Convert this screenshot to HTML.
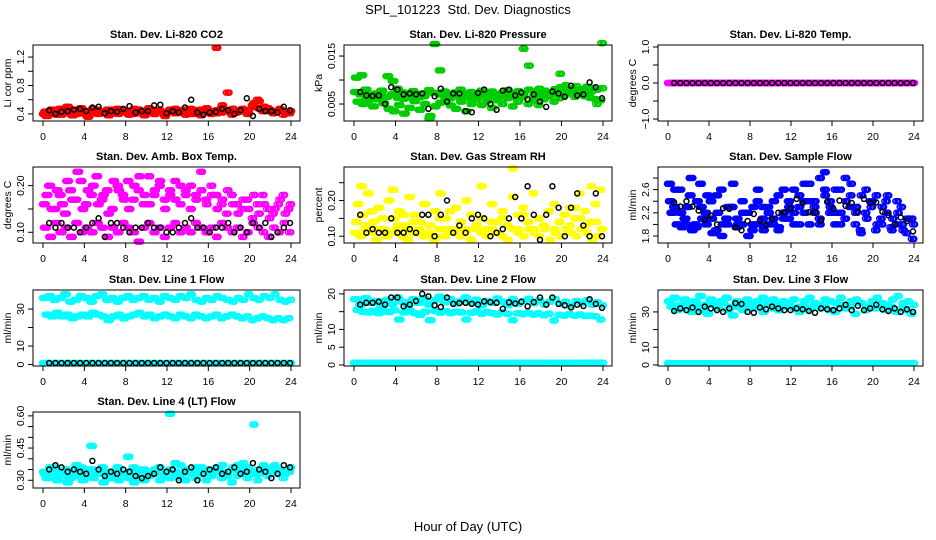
<!DOCTYPE html>
<html><head><meta charset="utf-8">
<style>
html,body{margin:0;padding:0;background:#fff;}
svg{display:block;font-family:"Liberation Sans",sans-serif;}
</style></head>
<body>
<svg id="chart" width="936" height="540" viewBox="0 0 936 540">
<text x="468" y="14" text-anchor="middle" font-size="13" xml:space="preserve">SPL_101223  Std. Dev. Diagnostics</text>
<text x="468" y="531" text-anchor="middle" font-size="13">Hour of Day (UTC)</text>
</svg>
<script>
// ---- data ----
const xTicks = [0,4,8,12,16,20,24];
const flat48 = [0,0,0,0,0,0,0,0,0,0,0,0,0,0,0,0,0,0,0,0,0,0,0,0,0,0,0,0,0,0,0,0,0,0,0,0,0,0,0,0,0,0,0,0,0,0,0,0,0];
const flat40 = [0,0,0,0,0,0,0,0,0,0,0,0,0,0,0,0,0,0,0,0,0,0,0,0,0,0,0,0,0,0,0,0,0,0,0,0,0,0,0,0];

const co2A = [0.40,0.44,0.42,0.47,0.41,0.45,0.43,0.48,0.40,0.44,0.46,0.42,0.45,0.41,0.47,0.43,0.44,0.40,0.46,0.42,0.48,0.43,0.45,0.41,0.44,0.47,0.42,0.46,0.40,0.45,0.43,0.48,0.44,0.41,0.52,0.70,0.47,0.43,0.45,0.41,0.55,0.58,0.50,0.46,0.43,0.47,0.41,0.44];
const co2B = [0.37,0.46,0.39,0.43,0.50,0.38,0.45,0.41,0.36,0.47,0.40,0.43,0.38,0.46,0.41,0.44,0.39,0.47,0.42,0.38,0.45,0.40,0.43,0.37,0.46,0.41,0.44,0.39,0.47,0.42,0.38,0.45,0.40,1.33,0.48,0.44,0.39,0.42,0.46,0.40,0.52,0.60,0.44,0.48,0.41,0.45,0.39,0.42];
const co2C = [0.43,0.41,0.45,0.39,0.44,0.42,0.40,0.45,0.43,0.41,0.44,0.42,0.46,0.43,0.40,0.45,0.42,0.44,0.41,0.43,0.45,0.40,0.44,0.42,0.43,0.41,0.45,0.42,0.44,0.40,0.46,0.43,0.41,0.45,0.42,0.44,0.40,0.43,0.47,0.45,0.50,0.48,0.46,0.44,0.42,0.45,0.43,0.41];
const co2K = [0.45,0.40,0.43,0.44,0.46,0.47,0.44,0.49,0.50,0.41,0.44,0.43,0.47,0.51,0.42,0.44,0.44,0.52,0.53,0.41,0.44,0.42,0.49,0.60,0.42,0.39,0.42,0.43,0.47,0.45,0.40,0.45,0.62,0.37,0.47,0.44,0.44,0.42,0.50,0.45];

const presA = [0.0075,0.0070,0.0080,0.0068,0.0072,0.0078,0.0065,0.0070,0.0082,0.0074,0.0069,0.0077,0.0071,0.0066,0.0079,0.0073,0.0070,0.0076,0.0068,0.0074,0.0080,0.0071,0.0075,0.0069,0.0078,0.0072,0.0076,0.0070,0.0074,0.0079,0.0073,0.0077,0.0071,0.0080,0.0076,0.0082,0.0078,0.0074,0.0081,0.0085,0.0089,0.0083,0.0087,0.0081,0.0086,0.0084,0.0080,0.0083];
const presB = [0.0055,0.0050,0.0058,0.0045,0.0060,0.0052,0.0040,0.0035,0.0048,0.0030,0.0042,0.0056,0.0038,0.0050,0.0025,0.0045,0.0053,0.0058,0.0047,0.0040,0.0055,0.0035,0.0050,0.0060,0.0048,0.0056,0.0042,0.0058,0.0050,0.0062,0.0045,0.0055,0.0064,0.0050,0.0058,0.0048,0.0060,0.0066,0.0055,0.0062,0.0068,0.0072,0.0065,0.0070,0.0066,0.0063,0.0060,0.0058];
const presC = [0.0105,0.0110,0.0062,0.0065,0.0060,0.0064,0.0108,0.0098,0.0063,0.0061,0.0066,0.0060,0.0064,0.0067,0.0020,0.0175,0.0120,0.0065,0.0062,0.0068,0.0063,0.0066,0.0061,0.0065,0.0069,0.0064,0.0067,0.0063,0.0066,0.0070,0.0065,0.0068,0.0165,0.0130,0.0067,0.0070,0.0072,0.0068,0.0073,0.0113,0.0075,0.0078,0.0074,0.0077,0.0073,0.0076,0.0050,0.0177];
const presK = [0.0075,0.0068,0.0067,0.0068,0.0050,0.0085,0.0080,0.0070,0.0072,0.0070,0.0072,0.0040,0.0066,0.0082,0.0055,0.0072,0.0072,0.0035,0.0033,0.0073,0.0080,0.0050,0.0038,0.0078,0.0080,0.0068,0.0074,0.0060,0.0070,0.0055,0.0044,0.0076,0.0072,0.0065,0.0088,0.0068,0.0070,0.0095,0.0085,0.0062];

const ambA = [0.16,0.20,0.15,0.18,0.14,0.19,0.17,0.21,0.16,0.18,0.22,0.17,0.19,0.15,0.20,0.18,0.21,0.17,0.19,0.16,0.22,0.18,0.20,0.17,0.19,0.21,0.16,0.18,0.20,0.17,0.19,0.16,0.18,0.15,0.17,0.19,0.16,0.14,0.17,0.15,0.18,0.14,0.16,0.13,0.15,0.17,0.14,0.16];
const ambB = [0.18,0.15,0.19,0.16,0.21,0.17,0.23,0.15,0.19,0.20,0.16,0.18,0.14,0.21,0.19,0.17,0.15,0.20,0.22,0.18,0.16,0.19,0.21,0.15,0.18,0.17,0.20,0.19,0.15,0.18,0.23,0.17,0.20,0.18,0.16,0.14,0.18,0.16,0.15,0.17,0.13,0.16,0.18,0.15,0.14,0.16,0.18,0.15];
const ambC = [0.11,0.09,0.12,0.10,0.11,0.09,0.12,0.10,0.11,0.10,0.12,0.11,0.09,0.11,0.10,0.12,0.11,0.10,0.08,0.11,0.12,0.10,0.11,0.09,0.11,0.12,0.10,0.11,0.10,0.12,0.11,0.10,0.11,0.09,0.12,0.11,0.10,0.11,0.09,0.10,0.12,0.11,0.10,0.09,0.11,0.10,0.12,0.10];
const ambK = [0.12,0.11,0.12,0.11,0.11,0.10,0.11,0.12,0.13,0.09,0.12,0.12,0.11,0.10,0.11,0.11,0.12,0.11,0.11,0.10,0.10,0.11,0.12,0.13,0.11,0.11,0.10,0.11,0.11,0.12,0.10,0.11,0.10,0.12,0.11,0.12,0.09,0.10,0.11,0.12];

const rhA = [0.11,0.10,0.12,0.11,0.09,0.12,0.10,0.11,0.12,0.10,0.09,0.11,0.12,0.10,0.11,0.09,0.12,0.10,0.11,0.12,0.10,0.11,0.09,0.12,0.11,0.10,0.12,0.11,0.10,0.09,0.12,0.11,0.10,0.12,0.11,0.10,0.12,0.09,0.11,0.10,0.12,0.11,0.10,0.12,0.11,0.09,0.10,0.12];
const rhB = [0.19,0.16,0.22,0.14,0.18,0.12,0.20,0.15,0.17,0.13,0.21,0.16,0.14,0.19,0.13,0.17,0.22,0.15,0.12,0.18,0.14,0.20,0.16,0.13,0.15,0.12,0.19,0.14,0.17,0.13,0.21,0.16,0.18,0.14,0.22,0.15,0.13,0.17,0.19,0.14,0.16,0.18,0.15,0.22,0.17,0.14,0.19,0.23];
const rhC = [0.14,0.24,0.13,0.17,0.12,0.15,0.11,0.23,0.13,0.16,0.12,0.14,0.11,0.19,0.13,0.10,0.15,0.12,0.17,0.11,0.14,0.12,0.16,0.13,0.24,0.12,0.14,0.11,0.15,0.13,0.29,0.12,0.16,0.14,0.12,0.15,0.13,0.17,0.12,0.14,0.16,0.13,0.18,0.15,0.13,0.24,0.14,0.12];
const rhK = [0.16,0.11,0.12,0.11,0.11,0.15,0.11,0.11,0.12,0.11,0.16,0.16,0.10,0.16,0.20,0.11,0.13,0.11,0.15,0.16,0.15,0.10,0.11,0.12,0.15,0.21,0.15,0.24,0.16,0.09,0.16,0.24,0.18,0.10,0.18,0.22,0.13,0.10,0.22,0.10];

const sfA = [2.7,2.3,2.6,2.1,2.5,2.0,2.7,2.2,2.4,1.9,2.6,2.1,2.3,1.95,2.0,2.2,1.9,2.4,2.1,2.3,2.0,2.5,2.2,2.1,2.6,2.3,2.7,2.4,2.2,2.8,2.5,2.3,2.6,2.2,2.4,2.7,2.3,2.5,2.1,2.4,2.0,2.3,2.5,2.1,2.2,1.9,2.1,2.0];
const sfB = [2.2,2.0,1.95,2.3,1.9,2.4,2.1,2.5,1.85,2.2,2.0,2.3,2.7,2.0,2.2,1.8,2.3,2.0,1.9,2.2,2.4,1.95,2.1,2.3,2.0,2.5,2.2,2.0,2.4,2.1,2.9,2.2,2.0,2.6,2.1,2.3,2.0,1.9,2.2,2.4,1.9,2.1,2.4,1.95,2.0,2.3,1.85,2.1];
const sfC = [2.4,2.6,2.2,2.0,2.8,1.95,2.3,2.0,2.1,2.5,1.8,2.0,2.3,2.1,2.4,2.2,2.0,2.6,2.3,2.0,2.1,1.9,2.6,2.4,2.2,2.0,2.4,2.7,2.3,2.0,2.6,2.4,2.2,2.0,2.8,2.5,2.2,1.85,2.6,2.3,2.5,2.0,2.2,1.9,2.4,2.0,2.1,1.75];
const sfK = [2.38,2.31,2.40,2.31,2.24,2.08,2.15,2.00,2.28,2.27,1.95,1.90,2.06,2.18,2.07,1.99,2.10,2.20,2.21,2.27,2.44,2.37,2.21,2.21,2.07,2.39,2.27,2.41,2.32,2.37,2.22,2.44,2.37,2.38,2.22,2.16,2.00,2.12,2.06,1.88];

const l1A = [36,37,35,36,38,34,35,37,36,34,37,38,35,36,34,36,37,35,36,37,35,36,34,37,36,35,37,36,38,35,34,36,35,37,36,35,34,36,35,38,36,35,37,36,38,35,34,35];
const l1B = [27,26,28,26,27,25,26,27,26,28,27,26,24,26,27,25,26,27,28,26,27,25,26,27,26,25,27,26,25,27,26,25,26,27,25,26,27,26,25,26,24,25,26,25,24,25,24,25];
const l1Low = [0.8,0.8,0.8,0.8,0.8,0.8,0.8,0.8,0.8,0.8,0.8,0.8,0.8,0.8,0.8,0.8,0.8,0.8,0.8,0.8,0.8,0.8,0.8,0.8,0.8,0.8,0.8,0.8,0.8,0.8,0.8,0.8,0.8,0.8,0.8,0.8,0.8,0.8,0.8,0.8,0.8,0.8,0.8,0.8,0.8,0.8,0.8,0.8];
const l1K = [0.8,0.8,0.8,0.8,0.8,0.8,0.8,0.8,0.8,0.8,0.8,0.8,0.8,0.8,0.8,0.8,0.8,0.8,0.8,0.8,0.8,0.8,0.8,0.8,0.8,0.8,0.8,0.8,0.8,0.8,0.8,0.8,0.8,0.8,0.8,0.8,0.8,0.8,0.8,0.8];

const l2A = [18.5,17,18.8,17.5,18,16.5,18.3,17.2,19,17.8,16.8,18.5,17.5,18.8,17,18.2,19.2,17.6,18.6,17.3,18,19,17.5,18.4,16.8,18,17.5,18.7,17.8,16.8,18.5,17.2,18,18.6,17.4,18.2,17,17.8,18.5,17.2,17.8,16.6,18,17.4,18.2,17,17.6,16.8];
const l2B = [15.5,15,14.8,15.3,14.6,15.2,14.9,15.4,12.8,14.8,15.3,14.6,14.1,15.0,12.6,15.2,14.7,15.1,14.6,15.0,14.8,12.8,14.7,15.1,14.4,14.9,14.6,14.2,14.8,14.4,12.6,14.5,14.3,14.7,14.2,14.5,14.0,14.4,12.5,14.1,13.9,14.3,13.9,14.2,13.8,13.9,13.7,12.8];
const l2Low = [0.6,0.6,0.6,0.6,0.6,0.6,0.6,0.6,0.6,0.6,0.6,0.6,0.6,0.6,0.6,0.6,0.6,0.6,0.6,0.6,0.6,0.6,0.6,0.6,0.6,0.6,0.6,0.6,0.6,0.6,0.6,0.6,0.6,0.6,0.6,0.6,0.6,0.6,0.6,0.6,0.6,0.6,0.6,0.6,0.6,0.6,0.6,0.6];
const l2K = [17,17.5,17.5,17.8,17,19,19,16.5,17,18,20,19.3,16.8,16.3,19,17.2,17.4,17.5,17.2,17,17.9,17.7,17.5,15.8,17.6,17.3,17.8,16.5,17.7,19,17,19,17.2,16.8,16.2,17,16.6,18.5,17.2,16.1];

const l3A = [36,38,34,37,35,36,39,34,37,35,36,38,33,36,35,37,34,36,38,35,37,34,36,35,37,33,36,38,35,34,37,36,35,38,34,36,37,35,33,36,38,35,34,37,39,35,36,34];
const l3B = [33,31,34,32,30,33,31,29,34,32,35,31,28,33,31,34,32,33,30,34,32,31,33,35,32,30,33,31,34,32,33,31,30,34,32,33,29,35,31,33,32,34,31,33,30,32,31,29];
const l3Low = [1,1,1,1,1,1,1,1,1,1,1,1,1,1,1,1,1,1,1,1,1,1,1,1,1,1,1,1,1,1,1,1,1,1,1,1,1,1,1,1,1,1,1,1,1,1,1,1];
const l3K = [30.5,32,31,32.5,30,33,32,31,30,32,35,34.5,30,29.5,32.5,31.5,33,32,31,31,32,31.5,30.5,29.5,32,31.5,31,32,34,31,33.5,31,32,34,31.5,30.5,32,30,31.5,30];

const l4A = [0.34,0.32,0.36,0.33,0.35,0.31,0.34,0.36,0.32,0.46,0.33,0.35,0.31,0.34,0.36,0.33,0.41,0.32,0.35,0.31,0.34,0.33,0.36,0.32,0.61,0.34,0.31,0.35,0.33,0.32,0.36,0.34,0.33,0.35,0.37,0.32,0.36,0.34,0.38,0.35,0.56,0.33,0.36,0.34,0.37,0.35,0.33,0.36];
const l4B = [0.31,0.35,0.30,0.33,0.29,0.34,0.32,0.30,0.35,0.31,0.33,0.29,0.32,0.34,0.30,0.33,0.31,0.29,0.34,0.30,0.32,0.35,0.30,0.33,0.31,0.38,0.32,0.30,0.34,0.31,0.33,0.30,0.32,0.34,0.31,0.33,0.29,0.32,0.35,0.31,0.33,0.30,0.34,0.32,0.36,0.33,0.31,0.34];
const l4C = [0.33,0.36,0.34,0.32,0.35,0.33,0.37,0.34,0.32,0.35,0.33,0.36,0.34,0.31,0.35,0.33,0.34,0.36,0.32,0.35,0.33,0.34,0.36,0.33,0.35,0.32,0.37,0.34,0.33,0.36,0.34,0.35,0.33,0.36,0.34,0.32,0.35,0.37,0.34,0.36,0.33,0.35,0.37,0.34,0.36,0.35,0.33,0.34];
const l4K = [0.35,0.37,0.36,0.34,0.35,0.34,0.33,0.39,0.35,0.32,0.34,0.33,0.35,0.34,0.32,0.31,0.32,0.33,0.36,0.34,0.35,0.30,0.34,0.36,0.30,0.33,0.35,0.36,0.33,0.34,0.36,0.33,0.34,0.38,0.35,0.34,0.31,0.33,0.37,0.36];

// ---- layout ----
const colL = [33,344,658], colR = [300,612,923], rowT = [45,167,290,412], H = 76;
const RED='#ff0000', GRN='#00cd00', MAG='#ff00ff', YEL='#ffff00', BLU='#0000ff', CYN='#00ffff', BLK='#000000';
// coloured series drawn at several sampling phases (hour offsets) to reproduce dense clouds
const phases = [[0,0],[0.13,0.13],[0.26,0.0],[0.38,0.1],[-0.1,-0.2]];

const panels = [
 {name:'co2',title:'Stan. Dev. Li-820 CO2',ylab:'Li cor ppm',c:0,r:0,ymin:0.30,ymax:1.37,ticks:[0.4,0.6,0.8,1.0,1.2],labels:['0.4','','0.8','','1.2'],
  series:[[co2A,RED,0,24],[co2B,RED,0.25,23.8],[co2C,RED,0.12,23.9]],black:[co2K,0.6,23.9]},
 {name:'pressure',title:'Stan. Dev. Li-820 Pressure',ylab:'kPa',c:1,r:0,ymin:0.00146,ymax:0.0173,ticks:[0.005,0.010,0.015],labels:['0.005','','0.015'],
  series:[[presA,GRN,0,24],[presB,GRN,0.25,23.8],[presC,GRN,0.1,23.95]],black:[presK,0.6,23.9]},
 {name:'temp',title:'Stan. Dev. Li-820 Temp.',ylab:'degrees C',c:2,r:0,ymin:-1.055,ymax:1.055,ticks:[-1,-0.5,0,0.5,1],labels:['\u22121.0','','0.0','','1.0'],
  series:[[flat48,MAG,0,24],[flat48,MAG,0.25,23.75],[flat48,MAG,0.12,23.9]],black:[flat40,0.6,23.9]},
 {name:'amb-box',title:'Stan. Dev. Amb. Box Temp.',ylab:'degrees C',c:0,r:1,ymin:0.077,ymax:0.24,ticks:[0.10,0.15,0.20],labels:['0.10','','0.20'],
  series:[[ambA,MAG,0,24],[ambB,MAG,0.25,23.8],[ambC,MAG,0.1,23.9]],black:[ambK,0.6,23.9]},
 {name:'gas-rh',title:'Stan. Dev. Gas Stream RH',ylab:'percent',c:1,r:1,ymin:0.081,ymax:0.294,ticks:[0.10,0.15,0.20,0.25],labels:['0.10','','0.20',''],
  series:[[rhA,YEL,0,24],[rhB,YEL,0.25,23.8],[rhC,YEL,0.1,23.9]],black:[rhK,0.6,23.9]},
 {name:'sample-flow',title:'Stan. Dev. Sample Flow',ylab:'ml/min',c:2,r:1,ymin:1.68,ymax:2.99,ticks:[1.8,2.0,2.2,2.4,2.6,2.8],labels:['1.8','','2.2','','2.6',''],
  series:[[sfA,BLU,0,24],[sfB,BLU,0.25,23.8],[sfC,BLU,0.1,23.9]],black:[sfK,0.6,23.9]},
 {name:'line1-flow',title:'Stan. Dev. Line 1 Flow',ylab:'ml/min',c:0,r:2,ymin:-0.8,ymax:40.3,ticks:[0,10,20,30],labels:['0','10','','30'],
  series:[[l1A,CYN,0,24],[l1B,CYN,0.25,23.8],[l1Low,CYN,0,24]],black:[l1K,0.6,23.9]},
 {name:'line2-flow',title:'Stan. Dev. Line 2 Flow',ylab:'ml/min',c:1,r:2,ymin:-0.3,ymax:21.1,ticks:[0,5,10,15,20],labels:['0','5','10','','20'],
  series:[[l2A,CYN,0,24],[l2B,CYN,0.25,23.8],[l2Low,CYN,0,24]],black:[l2K,0.6,23.9]},
 {name:'line3-flow',title:'Stan. Dev. Line 3 Flow',ylab:'ml/min',c:2,r:2,ymin:-0.6,ymax:42.4,ticks:[0,10,20,30],labels:['0','10','','30'],
  series:[[l3A,CYN,0,24],[l3B,CYN,0.25,23.8],[l3Low,CYN,0,24]],black:[l3K,0.6,23.9]},
 {name:'line4-flow',title:'Stan. Dev. Line 4 (LT) Flow',ylab:'ml/min',c:0,r:3,ymin:0.264,ymax:0.618,ticks:[0.30,0.35,0.40,0.45,0.50,0.55,0.60],labels:['0.30','','','0.45','','','0.60'],
  series:[[l4A,CYN,0,24],[l4B,CYN,0.25,23.8],[l4C,CYN,0.1,23.9]],black:[l4K,0.6,23.9]}
];

const NS='http://www.w3.org/2000/svg';
const svg=document.getElementById('chart');
function mk(tag,attrs,parent){const e=document.createElementNS(NS,tag);for(const k in attrs)e.setAttribute(k,attrs[k]);parent.appendChild(e);return e;}

panels.forEach(p=>{
  const L=colL[p.c],R=colR[p.c],T=rowT[p.r],B=T+H;
  const x0=L+10,x1=R-9;
  const xs=v=>x0+(Math.max(-0.1,Math.min(24.1,v))/24)*(x1-x0);
  const ys=v=>B-(v-p.ymin)/(p.ymax-p.ymin)*(B-T);
  const g=mk('g',{},svg);
  
  
  const t=mk('text',{x:(L+R)/2,y:T-7,'text-anchor':'middle','font-size':'11','font-weight':'bold'},g);
  t.textContent=p.title;
  
  
  const yl=mk('text',{x:0,y:0,'text-anchor':'middle','font-size':'10.5',transform:`translate(${L-22},${(T+B)/2}) rotate(-90)`},g);
  yl.textContent=p.ylab;
  
  
  const pg=mk('g',{fill:'none','stroke-width':'1.5'},g);
  
  
  function drawSeries(vals,col,t0,t1){
    const n=vals.length;
    vals.forEach((v,i)=>{
      const h=t0+i*(t1-t0)/(n-1);
      const c=mk('circle',{cx:xs(h).toFixed(1),cy:ys(v).toFixed(1),r:'2.5',stroke:col},pg);
      
      
    });
  }
  p.series.forEach(s=>{
    phases.forEach(ph=>drawSeries(s[0],s[1],s[2]+ph[0],s[3]+ph[1]));
  });
  drawSeries(p.black[0],BLK,p.black[1],p.black[2]);
  const box=mk('rect',{x:L,y:T,width:R-L,height:H,fill:'none',stroke:'#000','stroke-width':'1'},g);
  
  
  const xa=mk('g',{},g);
  
  
  xTicks.forEach(v=>{
    mk('line',{x1:xs(v),x2:xs(v),y1:B,y2:B+5,stroke:'#000'},xa);
    const tl=mk('text',{x:xs(v),y:B+19,'text-anchor':'middle','font-size':'10.5'},xa);
    tl.textContent=String(v);
  });
  const ya=mk('g',{},g);
  
  
  p.ticks.forEach((v,i)=>{
    mk('line',{x1:L-5,x2:L,y1:ys(v),y2:ys(v),stroke:'#000'},ya);
    if(p.labels[i]){
      const tl=mk('text',{x:0,y:0,'text-anchor':'middle','font-size':'10.5',transform:`translate(${L-9},${ys(v)}) rotate(-90)`},ya);
      tl.textContent=p.labels[i];
    }
  });
});
</script>
</body></html>
